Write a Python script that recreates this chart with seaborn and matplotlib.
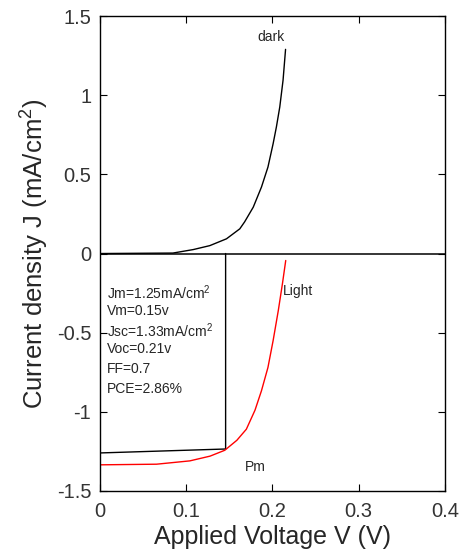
import matplotlib
matplotlib.use("Agg")
import matplotlib.pyplot as plt
import seaborn as sns
import pandas as pd

# Data
dark_v = [0.0, 0.085, 0.1085, 0.1277, 0.147, 0.1624, 0.168, 0.178, 0.1875, 0.195,
          0.201, 0.2048, 0.2087, 0.2125, 0.2154]
dark_j = [0.0, 0.003, 0.025, 0.05, 0.093, 0.156, 0.20, 0.293, 0.42, 0.546,
          0.694, 0.80, 0.926, 1.095, 1.29]
light_v = [0.0, 0.066, 0.1046, 0.128, 0.145, 0.159, 0.170, 0.180, 0.1875, 0.195,
           0.201, 0.207, 0.2118, 0.2156]
light_j = [-1.335, -1.331, -1.31, -1.28, -1.243, -1.18, -1.11, -0.99, -0.867, -0.72,
           -0.55, -0.36, -0.19, -0.044]
zero_v = [0.0, 0.4]
zero_j = [0.0, 0.0]
rect_v = [0.0, 0.146, 0.146]
rect_j = [-1.26, -1.235, 0.0]
xticks = [0, 0.1, 0.2, 0.3, 0.4]
yticks = [-1.5, -1, -0.5, 0, 0.5, 1, 1.5]
xtick_labels = ["0", "0.1", "0.2", "0.3", "0.4"]
ytick_labels = ["-1.5", "-1", "-0.5", "0", "0.5", "1", "1.5"]
params_text = ["Jm=1.25mA/cm$^2$", "Vm=0.15v", "Jsc=1.33mA/cm$^2$",
               "Voc=0.21v", "FF=0.7", "PCE=2.86%"]

sns.set_style("ticks")
plt.rcParams['font.family'] = ['Liberation Sans', 'DejaVu Sans']
plt.rcParams['mathtext.fontset'] = 'custom'
plt.rcParams['mathtext.rm'] = 'Liberation Sans'

fig = plt.figure(figsize=(4.65, 5.56), dpi=100)
ax = fig.add_axes([0.214, 0.117, 0.743, 0.854])

df_dark = pd.DataFrame({"V": dark_v, "J": dark_j})
df_light = pd.DataFrame({"V": light_v, "J": light_j})
df_zero = pd.DataFrame({"V": zero_v, "J": zero_j})
df_rect = pd.DataFrame({"V": rect_v, "J": rect_j})

kw = dict(ax=ax, sort=False, estimator=None, errorbar=None)
sns.lineplot(data=df_zero, x="V", y="J", color="black", lw=1.1, **kw)
sns.lineplot(data=df_dark, x="V", y="J", color="black", lw=1.0, **kw)
sns.lineplot(data=df_rect, x="V", y="J", color="black", lw=1.0, **kw)
sns.lineplot(data=df_light, x="V", y="J", color="red", lw=1.0, **kw)

ax.set_xlim(0, 0.4)
ax.set_ylim(-1.5, 1.5)
ax.set_xticks(xticks)
ax.set_xticklabels(xtick_labels)
ax.set_yticks(yticks)
ax.set_yticklabels(ytick_labels)
ax.tick_params(direction="in", top=True, right=True, length=5, width=0.8,
               labelsize=14.5, colors="black", labelcolor="#333333")
ax.tick_params(axis="x", pad=8)
ax.tick_params(axis="y", pad=6)
for s in ax.spines.values():
    s.set_visible(True)
    s.set_linewidth(1.0)
    s.set_color("black")

ax.set_xlabel("Applied Voltage V (V)", fontsize=18, labelpad=3)
ax.set_ylabel("Current density J (mA/cm$^2$)", fontsize=18.5, labelpad=5)

ax.text(0.198, 1.37, "dark", fontsize=10, ha="center", va="center")
ax.text(0.212, -0.235, "Light", fontsize=10, ha="left", va="center")
ax.text(0.168, -1.35, "Pm", fontsize=10, ha="left", va="center")
ys = [-0.245, -0.365, -0.487, -0.605, -0.73, -0.855]
for y, t in zip(ys, params_text):
    ax.text(0.0083, y, t, fontsize=10, ha="left", va="center")

fig.savefig("out.png", dpi=100)
